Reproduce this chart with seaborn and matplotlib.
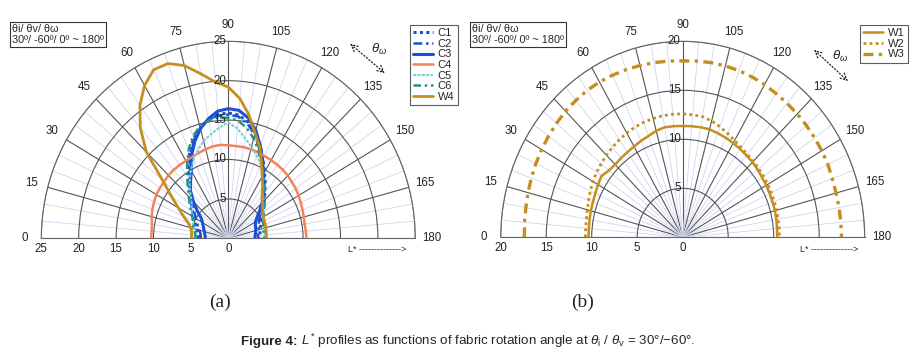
import numpy as np
import pandas as pd
import matplotlib
matplotlib.use("Agg")
import matplotlib.pyplot as plt
import matplotlib.transforms as mtransforms
import seaborn as sns

# fabric rotation angle (deg), one reading every 5 degrees
ANGLES = list(range(0, 181, 5))

# (a) L* values
C1 = [4.0, 4.0, 4.1, 4.3, 4.6, 4.9, 5.3, 5.8, 6.4, 7.1, 8.0, 9.1, 10.6, 12.2, 13.5, 14.6, 15.3, 15.8, 15.9,
      15.7, 15.0, 13.9, 12.5, 11.0, 9.7, 8.6, 7.6, 6.8, 6.1, 5.5, 5.1, 4.8, 4.6, 4.4, 4.3, 4.3, 4.3]
C2 = [3.7, 3.7, 3.8, 4.0, 4.3, 4.6, 5.0, 5.5, 6.1, 6.9, 7.8, 8.9, 10.3, 11.9, 13.3, 14.5, 15.3, 15.6, 15.7,
      15.5, 14.8, 13.6, 12.1, 10.7, 9.4, 8.3, 7.3, 6.5, 5.8, 5.2, 4.8, 4.5, 4.3, 4.2, 4.1, 4.0, 4.0]
C3 = [3.1, 3.1, 3.2, 3.3, 3.5, 3.7, 4.0, 4.4, 5.4, 6.6, 7.9, 8.8, 9.9, 11.6, 13.1, 14.4, 15.4, 16.2, 16.45,
      16.3, 15.5, 14.2, 12.5, 10.9, 9.4, 8.3, 7.3, 6.4, 5.5, 4.7, 4.2, 4.0, 3.9, 3.8, 3.7, 3.6, 3.55]
C4 = [10.3, 10.3, 10.35, 10.6, 10.8, 10.95, 11.1, 11.15, 11.2, 11.3, 11.35, 11.35, 11.35, 11.4, 11.55, 11.7,
      11.85, 11.9, 11.8, 11.75, 11.75, 11.7, 11.6, 11.5, 11.45, 11.4, 11.35, 11.25, 11.1, 11.0, 10.85, 10.7,
      10.55, 10.45, 10.35, 10.4, 10.45]
C5 = [4.4, 4.5, 4.6, 4.8, 5.0, 5.2, 5.4, 5.9, 6.4, 7.0, 8.0, 9.0, 10.0, 11.0, 11.9, 12.8, 13.4, 14.1, 14.7,
      14.0, 12.9, 12.0, 11.1, 10.3, 9.0, 8.0, 7.2, 6.6, 6.1, 5.8, 5.5, 5.3, 5.1, 5.0, 4.9, 4.9, 4.9]
C6 = [4.4, 4.4, 4.5, 4.7, 4.9, 5.2, 5.6, 6.1, 6.7, 7.5, 8.4, 9.6, 11.0, 12.5, 13.8, 14.7, 15.2, 15.4, 15.3,
      15.0, 14.2, 13.1, 11.8, 10.5, 9.4, 8.4, 7.6, 6.9, 6.3, 5.8, 5.5, 5.2, 5.0, 4.9, 4.8, 4.8, 4.8]
W4 = [4.9, 4.9, 5.0, 5.2, 5.7, 6.6, 7.7, 9.3, 11.5, 15.5, 18.3, 20.6, 22.4, 23.6, 23.6, 22.7, 21.2, 19.9, 19.2,
      17.8, 15.9, 13.8, 12.3, 10.5, 9.1, 8.0, 7.0, 6.4, 6.0, 5.6, 5.4, 5.3, 5.25, 5.2, 5.15, 5.1, 5.1]

# (b) L* values
W1 = [10.35, 10.35, 10.4, 10.45, 10.5, 10.6, 10.75, 10.9, 10.6, 10.5, 10.55, 10.6, 10.7, 10.85, 11.0, 11.25,
      11.4, 11.38, 11.36, 11.38, 11.4, 11.4, 11.3, 11.2, 11.1, 11.0, 10.9, 10.85, 10.75, 10.65, 10.6, 10.55,
      10.5, 10.5, 10.45, 10.4, 10.4]
W2 = [10.7, 10.7, 10.75, 10.85, 11.0, 11.2, 11.4, 11.55, 11.7, 11.85, 12.0, 12.15, 12.3, 12.4, 12.5, 12.55,
      12.6, 12.6, 12.6, 12.55, 12.5, 12.3, 12.0, 11.7, 11.4, 11.2, 11.05, 10.95, 10.9, 10.85, 10.8, 10.75,
      10.7, 10.7, 10.65, 10.65, 10.65]
W3 = [17.4, 17.45, 17.5, 17.6, 17.7, 17.8, 17.9, 18.0, 18.1, 18.2, 18.25, 18.3, 18.3, 18.25, 18.2, 18.15,
      18.1, 18.05, 18.0, 18.05, 18.1, 18.1, 18.1, 18.05, 18.0, 17.9, 17.85, 17.8, 17.75, 17.7, 17.65, 17.6,
      17.5, 17.45, 17.45, 17.45, 17.45]

THETA_MAJOR = list(range(0, 181, 15))
THETA_MINOR = list(range(0, 181, 5))

BLUE, ORANGE, CYAN, TEAL, GOLD = "#1a4fd8", "#f2845a", "#7dcfd2", "#1f9488", "#c48f1e"

left_series = {"C1": C1, "C2": C2, "C3": C3, "C4": C4, "C5": C5, "C6": C6, "W4": W4}
left_pal = {"C1": BLUE, "C2": BLUE, "C3": BLUE, "C4": ORANGE, "C5": CYAN, "C6": TEAL, "W4": GOLD}
left_dash = {"C1": (1, 1.1), "C2": (3.5, 1.5, 1, 1.5), "C3": "", "C4": "", "C5": (1.5, 0.6),
             "C6": (3, 1.5, 1, 1.5), "W4": ""}
left_lw = {"C1": 2.2, "C2": 1.8, "C3": 2.2, "C4": 1.8, "C5": 1.5, "C6": 1.8, "W4": 2.0}

right_series = {"W1": W1, "W2": W2, "W3": W3}
right_pal = {"W1": GOLD, "W2": GOLD, "W3": GOLD}
right_dash = {"W1": "", "W2": (1, 1.2), "W3": (3, 1.6, 1, 1.6)}
right_lw = {"W1": 1.8, "W2": 2.0, "W3": 2.4}


def long_table(series):
    return pd.concat([pd.DataFrame({"theta": np.deg2rad(ANGLES), "r": vals, "series": name})
                      for name, vals in series.items()], ignore_index=True)


sns.set_theme(style="white")
plt.rcParams["font.family"] = ["Liberation Sans", "DejaVu Sans"]
plt.rcParams["mathtext.fontset"] = "custom"
plt.rcParams["mathtext.rm"] = "Liberation Sans"
plt.rcParams["mathtext.it"] = "Liberation Sans:italic"
plt.rcParams["mathtext.bf"] = "Liberation Sans:bold"

fig = plt.figure(figsize=(9.15, 3.53), dpi=100)
W, H = 915, 353


def half_polar(rect, rmax, series, pal, dash, lw, leg_xy):
    ax = fig.add_axes(rect, projection="polar")
    data = long_table(series)
    sns.lineplot(data=data, x="theta", y="r", hue="series", style="series", size="series",
                 hue_order=list(series), palette=pal, dashes=dash, sizes=lw,
                 sort=False, estimator=None, ax=ax, zorder=3)
    ax.set_theta_zero_location("W")
    ax.set_theta_direction(-1)
    ax.set_thetamin(0)
    ax.set_thetamax(180)
    ax.set_ylim(0, rmax)
    ax.set_aspect("auto")
    ax.set_xlabel("")
    ax.set_ylabel("")
    ax.set_xticks(np.deg2rad(THETA_MAJOR))
    ax.set_xticklabels([str(a) for a in THETA_MAJOR])
    ax.set_xticks(np.deg2rad(THETA_MINOR), minor=True)
    rt = list(range(0, rmax + 1, 5))
    ax.set_yticks(rt)
    ax.set_yticklabels([str(v) for v in rt])
    ax.set_axisbelow(True)
    ax.grid(True, which="major", color="#555555", lw=0.8)
    ax.grid(True, which="minor", axis="x", color="#cdd0f0", lw=0.55)
    ax.tick_params(length=0, labelsize=8.3, colors="#222222")
    ax.tick_params(axis="x", pad=5)
    for sp in ax.spines.values():
        sp.set_color("#666666")
        sp.set_linewidth(0.8)
    # radial values along the 90 degree line
    shift = mtransforms.offset_copy(ax.transData, fig=fig, x=-2, y=0, units="dots")
    for v in rt[1:]:
        ax.text(np.pi / 2, v, str(v), transform=shift, ha="right", va="center",
                fontsize=8.3, color="#222222", zorder=5)
    sns.move_legend(ax, "upper left", bbox_to_anchor=(leg_xy[0] / W, 1 - leg_xy[1] / H),
                    bbox_transform=fig.transFigure, title=None, frameon=True, fancybox=False,
                    fontsize=8, handlelength=1.8, handletextpad=0.4, labelspacing=0.05,
                    borderpad=0.3, borderaxespad=0)
    leg = ax.get_legend()
    leg.get_frame().set_edgecolor("#333333")
    leg.get_frame().set_linewidth(0.8)
    return ax


axa = half_polar([41.3 / W, 16.2 / H, 374 / W, 394 / H], 25,
                 left_series, left_pal, left_dash, left_lw, (410, 25))
axb = half_polar([500.7 / W, 17.7 / H, 364 / W, 392 / H], 20,
                 right_series, right_pal, right_dash, right_lw, (860, 25))

# annotations shared by both panels
for x0, arr, lab, lx in [(12, (348, 42, 387, 75), (371, 49), (348, 250)),
                         (472, (812, 48, 850, 83), (832, 56), (800, 250))]:
    fig.text(x0 / W, 1 - 24 / H, "θi/ θv/ θω\n30º/ -60º/ 0º ~ 180º", fontsize=7.8, ha="left", va="top",
             linespacing=1.1, bbox=dict(boxstyle="square,pad=0.22", fc="white", ec="#333333", lw=0.8))
    fig.text(lab[0] / W, 1 - lab[1] / H, r"$\theta_\omega$", fontsize=9.5, ha="left", va="center")
    fig.add_artist(plt.Annotation("", xy=(arr[2] / W, 1 - arr[3] / H), xytext=(arr[0] / W, 1 - arr[1] / H),
                                  xycoords="figure fraction",
                                  arrowprops=dict(arrowstyle="<->", ls=":", lw=0.9, color="#222222")))
    fig.text(lx[0] / W, 1 - lx[1] / H, "L* -------------->", fontsize=6.5, ha="left", va="center")

fig.text(220 / W, 1 - 302 / H, "(a)", family="Liberation Serif", fontsize=14, ha="center", va="center")
fig.text(583 / W, 1 - 302 / H, "(b)", family="Liberation Serif", fontsize=14, ha="center", va="center")

# caption: bold head followed by regular text on the same baseline
cap_y = 1 - 345 / H
head = fig.text(241 / W, cap_y, "Figure 4:", fontsize=9.6, fontweight="bold", ha="left", va="baseline")
fig.canvas.draw()
head_end = head.get_window_extent().x1 / W
fig.text(head_end, cap_y,
         r" $\mathit{L}^{*}$ profiles as functions of fabric rotation angle at "
         r"$\theta_{\mathrm{i}}$ / $\theta_{\mathrm{v}}$ = 30°/−60°.",
         fontsize=9.6, ha="left", va="baseline")

fig.savefig("out.png", dpi=100)
